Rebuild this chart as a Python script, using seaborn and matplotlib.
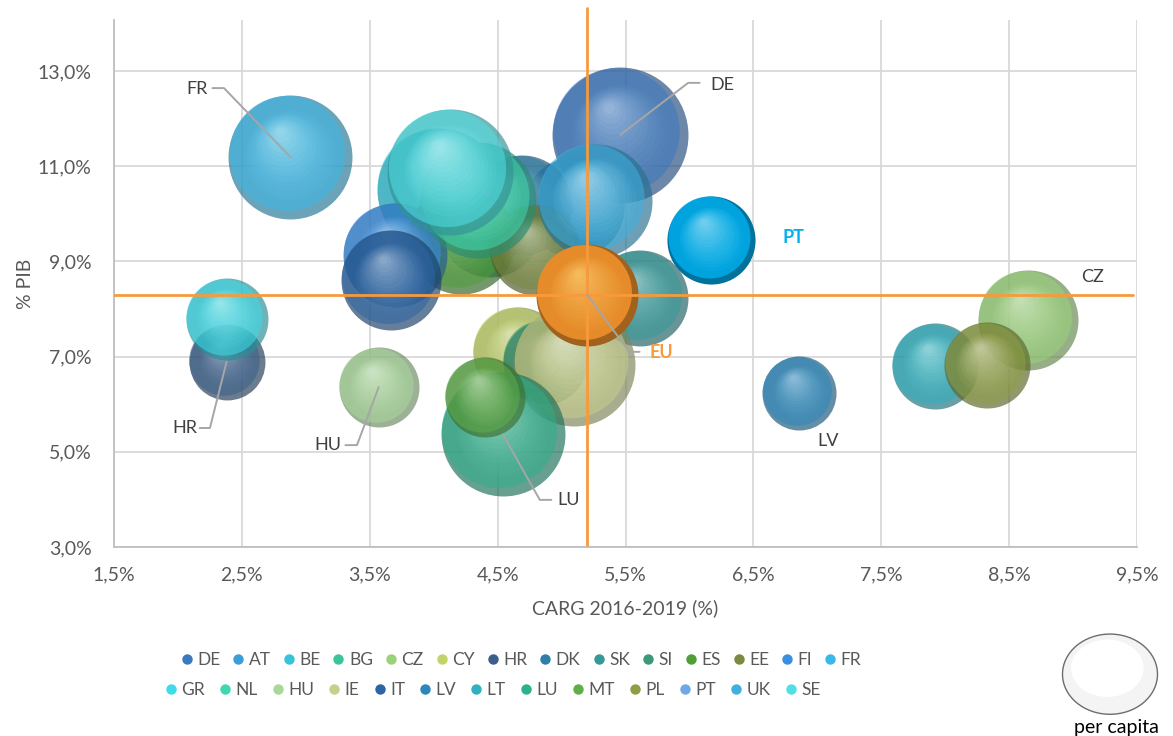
import numpy as np
import pandas as pd
import matplotlib
matplotlib.use("Agg")
import matplotlib.pyplot as plt
import matplotlib.colors as mcolors
import matplotlib.transforms as mtransforms
from matplotlib.lines import Line2D
from matplotlib.patches import Ellipse
import seaborn as sns

# --- data ---
countries = ["DE", "AT", "BE", "BG", "CZ", "CY", "HR", "DK", "SK", "SI", "ES", "EE", "FI", "FR",
             "GR", "NL", "HU", "IE", "IT", "LV", "LT", "LU", "MT", "PL", "PT", "UK", "SE"]
carg = [5.46, 5.10, 4.04, 4.44, 8.65, 4.66, 2.38, 4.69, 5.61, 4.87, 4.21, 4.79, 3.70, 2.88,
        2.38, 4.35, 3.57, 5.10, 3.67, 6.86, 7.92, 4.54, 4.40, 8.33, 6.17, 5.26, 4.13]
pib = [11.66, 10.14, 10.50, 9.76, 7.77, 7.10, 6.89, 10.18, 8.23, 6.89, 9.45, 9.24, 9.13, 11.19,
       7.79, 10.29, 6.36, 6.82, 8.61, 6.24, 6.80, 5.37, 6.15, 6.82, 9.45, 10.27, 10.88]
per_capita = [46.2, 25.0, 38.4, 27.0, 25.0, 20.3, 14.4, 25.0, 23.0, 17.6, 29.2, 20.3, 27.0, 38.4,
              16.8, 33.6, 16.0, 37.2, 25.0, 13.7, 18.5, 38.4, 16.0, 18.5, 19.4, 32.5, 39.7]
colors = ["#3b78c0", "#3d9ed6", "#37c4d8", "#3cc39a", "#9ad27a", "#c2d36a", "#3a5f8a", "#2f7fab",
          "#35999a", "#3a9977", "#4f9e3a", "#7a8a40", "#3a8fe0", "#3ab8e8", "#3ddce8", "#40d8b0",
          "#a8d89a", "#c7cf8a", "#2b65a5", "#2a88bd", "#2fb2c0", "#2fb08c", "#5fae4a", "#8f9e44",
          "#00b0f0", "#3fb0e0", "#4fe0e6"]
legend_colors = colors[:24] + ["#6fa8e8"] + colors[25:]

eu_carg, eu_pib, eu_per_capita = 5.20, 8.30, 26.0

df = pd.DataFrame({"country": countries, "carg": carg, "pib": pib,
                   "per_capita": per_capita, "color": colors})

sns.set_theme(style="white")
plt.rcParams["font.family"] = ["Lato", "DejaVu Sans"]

fig = plt.figure(figsize=(11.73, 7.36), dpi=100)
ax = fig.add_axes([0.0972, 0.2568, 0.8721, 0.716])

SIZE_SCALE = 207.4  # points^2 per unit of per capita


def mix(c1, c2, t):
    a = np.array(mcolors.to_rgb(c1))
    b = np.array(mcolors.to_rgb(c2))
    return tuple((1 - t) * a + t * b)


def draw_bubble(x, y, pc, color, alpha, shine="white"):
    s = SIZE_SCALE * pc
    r = np.sqrt(s) / 2
    # darker rim, mostly lower right
    sns.scatterplot(x=[x], y=[y], s=s, color=mix(color, "black", 0.35), alpha=alpha,
                    linewidth=0, ax=ax, legend=False)
    # body
    tr = mtransforms.offset_copy(ax.transData, fig=fig, x=-0.06 * r, y=0.06 * r, units="points")
    sns.scatterplot(x=[x], y=[y], s=(2 * 0.93 * r) ** 2, color=color, alpha=alpha * 0.8,
                    linewidth=0, ax=ax, legend=False, transform=tr)
    # soft highlight, upper left
    n = 14
    for k in range(n):
        t = (k + 1) / n
        rad = r * (0.78 - 0.7 * t)
        tr = mtransforms.offset_copy(ax.transData, fig=fig, x=-0.17 * r * t, y=0.40 * r * t,
                                     units="points")
        sns.scatterplot(x=[x], y=[y], s=(2 * rad) ** 2, color=mix(color, shine, 0.15 + 0.6 * t),
                        alpha=0.11, linewidth=0, ax=ax, legend=False, transform=tr)


for _, row in df.iterrows():
    a = 1.0 if row["country"] == "PT" else 0.68
    draw_bubble(row["carg"], row["pib"], row["per_capita"], row["color"], a)

draw_bubble(eu_carg, eu_pib, eu_per_capita, "#f7962e", 1.0, shine="#fff2a0")

# EU cross lines
orange = "#f79a3c"
ax.axvline(eu_carg, ymin=0.004, ymax=1.023, color=orange, lw=2, clip_on=False, zorder=50)
ax.axhline(eu_pib, xmin=0, xmax=0.996, color=orange, lw=2, zorder=50)

# labels with leader lines (text position, leader knee points)
grey = "#a6a6a6"
txt = "#404040"
labels = {
    "FR": dict(xy=(2.23, 12.62), ha="right", lead=[(2.27, 12.64), (2.36, 12.64)]),
    "DE": dict(xy=(6.16, 12.71), ha="left", lead=[(6.08, 12.75), (5.99, 12.75)]),
    "HR": dict(xy=(2.15, 5.50), ha="right", lead=[(2.17, 5.50), (2.25, 5.50)]),
    "HU": dict(xy=(3.28, 5.14), ha="right", lead=[(3.31, 5.14), (3.40, 5.14)]),
    "LU": dict(xy=(4.97, 3.99), ha="left", lead=[(4.92, 3.99), (4.83, 3.99)]),
    "CZ": dict(xy=(9.06, 8.67), ha="left", lead=None),
    "LV": dict(xy=(7.00, 5.23), ha="left", lead=None),
}
for name, opt in labels.items():
    i = countries.index(name)
    if opt["lead"]:
        xs = [p[0] for p in opt["lead"]] + [carg[i]]
        ys = [p[1] for p in opt["lead"]] + [pib[i]]
        ax.plot(xs, ys, color=grey, lw=1.4, zorder=60)
    ax.text(*opt["xy"], name, ha=opt["ha"], va="center", fontsize=13, color=txt, zorder=61)

ax.text(6.73, 9.51, "PT", ha="left", va="center", fontsize=13, color="#00b0f0",
        fontweight="bold", zorder=61)
ax.plot([5.61, 5.53, eu_carg], [7.10, 7.10, eu_pib], color=grey, lw=1.4, zorder=60)
ax.text(5.69, 7.08, "EU", ha="left", va="center", fontsize=13, color=orange,
        fontweight="bold", zorder=61)

# axes
ax.set_xlim(1.5, 9.5)
ax.set_ylim(3.0, 14.07)
ax.set_xticks(np.arange(1.5, 9.51, 1.0))
ax.set_yticks(np.arange(3.0, 13.01, 2.0))
ax.xaxis.set_major_formatter(lambda v, p: f"{v:.1f}%".replace(".", ","))
ax.yaxis.set_major_formatter(lambda v, p: f"{v:.1f}%".replace(".", ","))
ax.grid(True, color="#d9d9d9", lw=1.3)
ax.set_axisbelow(True)
for side in ["top", "right"]:
    ax.spines[side].set_visible(False)
for side in ["left", "bottom"]:
    ax.spines[side].set_color("#bfbfbf")
    ax.spines[side].set_linewidth(1.3)
ax.tick_params(axis="x", length=0, pad=14, labelsize=14, labelcolor="#595959")
ax.tick_params(axis="y", length=0, pad=16, labelsize=14, labelcolor="#595959")
ax.set_xlabel("CARG 2016-2019 (%)", fontsize=14, color="#595959")
ax.set_ylabel("% PIB", fontsize=14, color="#595959")
ax.xaxis.set_label_coords(0.5, -0.099)
ax.yaxis.set_label_coords(-0.078, 0.50)

# legend in two rows
handles = [Line2D([], [], ls="", marker="o", markersize=7.5, markeredgewidth=0,
                  markerfacecolor=c) for c in legend_colors]
leg1 = fig.legend(handles[:14], countries[:14], ncol=14, loc="center",
                  bbox_to_anchor=(0.444, 0.103), frameon=False, fontsize=12.5,
                  handlelength=0.7, handletextpad=0.25, columnspacing=0.69,
                  labelcolor="#595959")
leg2 = fig.legend(handles[14:], countries[14:], ncol=13, loc="center",
                  bbox_to_anchor=(0.42, 0.0625), frameon=False, fontsize=12.5,
                  handlelength=0.7, handletextpad=0.25, columnspacing=0.81,
                  labelcolor="#595959")

# bubble size key
fig.add_artist(Ellipse((0.9463, 0.084), 0.081, 0.109, transform=fig.transFigure,
                       facecolor="#f4f4f4", edgecolor="#6d6d6d", lw=1))
fig.add_artist(Ellipse((0.9440, 0.092), 0.062, 0.078, transform=fig.transFigure,
                       facecolor="white", edgecolor="none"))
fig.text(0.952, 0.012, "per capita", ha="center", va="center", fontsize=14, color="black")

fig.savefig("out.png", dpi=100)
